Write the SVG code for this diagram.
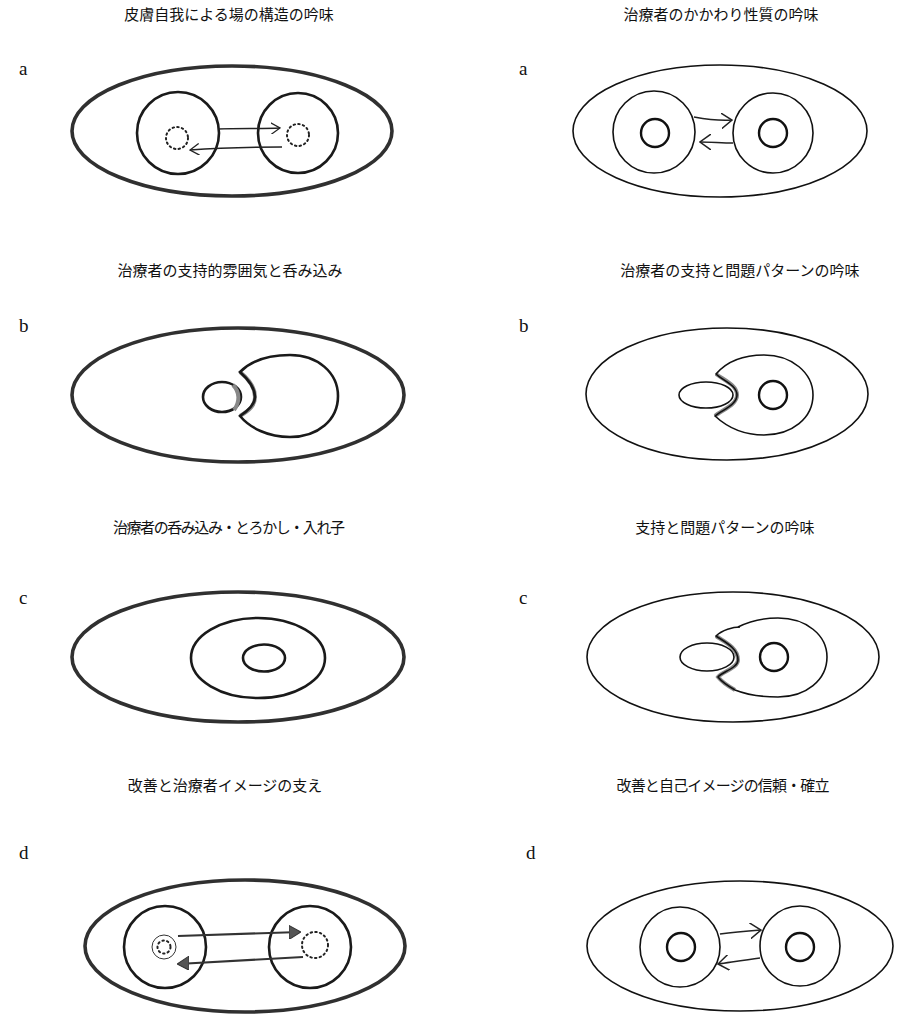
<svg xmlns="http://www.w3.org/2000/svg" width="919" height="1015" viewBox="0 0 919 1015">
<defs>
<style>
.title{font-family:"Noto Sans CJK JP","Noto Sans",sans-serif;font-size:15px;fill:#111;text-anchor:middle}
.lab{font-family:"Liberation Serif",serif;font-size:19px;fill:#111}
.thick{fill:none;stroke:#303030;stroke-width:3.6}
.mid{fill:none;stroke:#1a1a1a;stroke-width:2.6}
.thin{fill:none;stroke:#111;stroke-width:1.6}
.thin2{fill:none;stroke:#111;stroke-width:2.4}
.dots{fill:none;stroke:#222;stroke-width:2;stroke-dasharray:1.5 3.2;stroke-linecap:round}
.shade{fill:none;stroke:#888;stroke-width:4}
.arrow{fill:none;stroke:#222;stroke-width:1.5}
.arrowT{fill:none;stroke:#333;stroke-width:2.2}
</style>
<marker id="open" viewBox="0 0 12 16" refX="11" refY="8" markerWidth="12" markerHeight="16" markerUnits="userSpaceOnUse" orient="auto">
<path d="M0,0 L11,8 L0,16" fill="none" stroke="#222" stroke-width="1.5"/>
</marker>
<marker id="openS" viewBox="0 0 12 14" refX="11" refY="7" markerWidth="10" markerHeight="12" markerUnits="userSpaceOnUse" orient="auto">
<path d="M0,0 L11,7 L0,14" fill="none" stroke="#222" stroke-width="1.5"/>
</marker>
<marker id="solid" viewBox="0 0 12 14" refX="11" refY="7" markerWidth="12" markerHeight="14" markerUnits="userSpaceOnUse" orient="auto">
<path d="M0,0 L12,7 L0,14 Z" fill="#555" stroke="#333" stroke-width="1"/>
</marker>
</defs>
<rect width="919" height="1015" fill="#fff"/>

<g id="titles">
<text class="title" x="229" y="20">皮膚自我による場の構造の吟味</text>
<text class="title" x="721" y="20">治療者のかかわり性質の吟味</text>
<text class="title" x="230" y="276">治療者の支持的雰囲気と呑み込み</text>
<text class="title" x="740" y="276">治療者の支持と問題パターンの吟味</text>
<text class="title" x="229" y="533" textLength="232" lengthAdjust="spacing">治療者の呑み込み・とろかし・入れ子</text>
<text class="title" x="725" y="533">支持と問題パターンの吟味</text>
<text class="title" x="225" y="791">改善と治療者イメージの支え</text>
<text class="title" x="723" y="791" textLength="213" lengthAdjust="spacing">改善と自己イメージの信頼・確立</text>
</g>
<g id="labels">
<text class="lab" x="19" y="75">a</text>
<text class="lab" x="519" y="75">a</text>
<text class="lab" x="19" y="332">b</text>
<text class="lab" x="519" y="332">b</text>
<text class="lab" x="19" y="604">c</text>
<text class="lab" x="519" y="604">c</text>
<text class="lab" x="19" y="859">d</text>
<text class="lab" x="526" y="859">d</text>
</g>

<g id="panel-a-left">
<ellipse class="thick" cx="232" cy="131" rx="160" ry="65"/>
<circle class="mid" cx="178" cy="133" r="41"/>
<circle class="mid" cx="298" cy="133" r="40"/>
<circle class="dots" cx="177" cy="138" r="11"/>
<circle class="dots" cx="298" cy="135" r="11"/>
</g>
<g id="panel-a-right">
<ellipse class="thin" cx="720" cy="131" rx="147" ry="66"/>
<circle class="thin" cx="654" cy="132" r="41"/>
<circle class="thin" cx="773" cy="133" r="40"/>
<circle class="thin2" cx="655" cy="133" r="14"/>
<circle class="thin2" cx="773" cy="133" r="14"/>
</g>

<g id="panel-b-left">
<ellipse class="thick" cx="238" cy="395" rx="166" ry="67"/>
<path class="shade" d="M240,372 C250,380 255,388 255,397 C255,405 250,410 240,416"/>
<path class="mid" d="M240,372 C252,360 270,355 290,355 C318,355 338,373 338,396 C338,420 318,437 290,437 C268,437 250,428 240,416 C249,410 255,404 255,397 C255,388 249,380 240,372 Z"/>
<ellipse class="mid" cx="222" cy="397" rx="19" ry="15"/>
<path class="shade" d="M233,385 C240,392 240,402 234,410" stroke-width="3"/>
</g>
<g id="panel-b-right">
<ellipse class="thin" cx="727" cy="394" rx="141" ry="66"/>
<path class="shade" d="M716,374 C724,380 737,385 737,395 C737,405 722,410 715,416" stroke-width="3"/>
<path class="thin" d="M716,374 C728,360 745,355 764,355 C792,355 813,373 813,395 C813,418 792,435 764,435 C745,435 728,428 715,416 C722,410 737,405 737,395 C737,385 722,380 716,374 Z"/>
<ellipse class="thin" cx="706" cy="395" rx="27" ry="13"/>
<circle class="thin2" cx="773" cy="395" r="14"/>
</g>

<g id="panel-c-left">
<ellipse class="thick" cx="238" cy="657" rx="166" ry="65"/>
<ellipse class="mid" cx="258" cy="658" rx="67" ry="40"/>
<ellipse class="mid" cx="264" cy="658" rx="21" ry="13.5"/>
</g>
<g id="panel-c-right">
<ellipse class="thin" cx="733" cy="657" rx="146" ry="65"/>
<path class="thin" d="M738,627 C752,620 765,618 778,618 C806,618 827,635 827,657 C827,680 806,697 778,697 C760,697 745,694 735,690"/>
<path class="shade" d="M716,636 C725,642 738,648 738,660 C738,668 722,672 718,677 C722,682 728,686 735,690" stroke-width="3"/>
<path class="thin" d="M740,627 C733,627 722,630 716,636 C725,642 738,648 738,660 C738,668 722,672 718,677 C722,682 728,686 735,690"/>
<ellipse class="thin" cx="707" cy="657" rx="27" ry="14"/>
<circle class="thin2" cx="774" cy="657" r="14"/>
</g>

<g id="panel-d-left">
<ellipse class="thick" cx="245" cy="946" rx="160" ry="66"/>
<circle class="mid" cx="165" cy="947" r="41"/>
<circle class="mid" cx="310" cy="947" r="41"/>
<circle fill="none" stroke="#333" stroke-width="1" cx="164" cy="947" r="12"/>
<circle class="dots" cx="164" cy="947" r="6.5" stroke-width="1.8"/>
<circle class="dots" cx="315" cy="945" r="13"/>
</g>
<g id="panel-d-right">
<ellipse class="thin" cx="740" cy="946" rx="153" ry="65"/>
<circle class="thin" cx="680" cy="947" r="40"/>
<circle class="thin" cx="800" cy="946" r="40"/>
<circle class="thin2" cx="681" cy="947" r="14"/>
<circle class="thin2" cx="800" cy="947" r="14"/>
</g>

<g id="connectors">
<path class="arrow" d="M218,129 C240,128 262,129 280,128" marker-end="url(#openS)"/>
<path class="arrow" d="M282,147 C250,147 215,148 190,150" marker-end="url(#openS)"/>
<path class="arrow" d="M694,117 C705,119 718,121 732,120" marker-end="url(#open)"/>
<path class="arrow" d="M733,143 C722,143 711,142 700,142" marker-end="url(#open)"/>
<path class="arrowT" d="M178,936 L300,932" marker-end="url(#solid)"/>
<path class="arrowT" d="M303,957 L178,964" marker-end="url(#solid)"/>
<path class="arrow" d="M720,934 C735,932 748,931 761,930" marker-end="url(#open)"/>
<path class="arrow" d="M760,958 C745,960 732,962 718,964" marker-end="url(#open)"/>
</g>
</svg>
